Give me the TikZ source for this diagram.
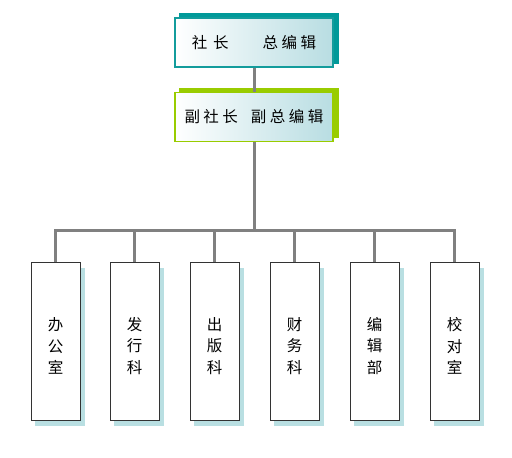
\documentclass[tikz,border=0pt]{standalone}
\usepackage{fontspec}
\newfontfamily\cjk{Noto Sans CJK SC}
\pgfdeclarelayer{shadow}
\pgfsetlayers{shadow,main}
\definecolor{teal edge}{HTML}{139C9C}
\definecolor{teal shadow}{HTML}{009999}
\definecolor{lime shadow}{HTML}{99CC00}
\definecolor{lime edge}{HTML}{99CC00}
\definecolor{head fill}{HTML}{B8DDE2}
\definecolor{dept shadow}{HTML}{B9DFE2}
\definecolor{link gray}{HTML}{808080}
\def\departments{{(55.5,341)/office/办\\公\\室}, {(134.5,341)/issue/发\\行\\科}, {(214.5,341)/press/出\\版\\科}, {(294.5,341)/finance/财\\务\\科}, {(374.5,341)/editing/编\\辑\\部}, {(454.5,341)/proof/校\\对\\室}}
\tikzstyle{head} = [shading angle=300, left color=white, right color=head fill, minimum width=158pt, minimum height=49pt, inner sep=0pt, font=\cjk\fontsize{15.5}{18}\selectfont]
\tikzstyle{chief edge} = [draw=teal edge, line width=1.2pt]
\tikzstyle{vice edge} = [draw=lime edge, line width=1.2pt]
\tikzstyle{dept} = [draw=black!80, fill=white, minimum width=49pt, minimum height=158pt, inner sep=0pt]
\tikzstyle{dept text} = [align=center, inner sep=0pt, font=\cjk\fontsize{15.5}{21.5}\selectfont]
\tikzstyle{link} = [draw, line width=3pt, link gray]

\begin{document}
\begin{tikzpicture}[x=1pt, y=-1pt]
  \useasboundingbox (0,0) rectangle (512,458);

  % The two heads
  \node[head, chief edge] (chief) at (254,42.5) {社\kern6pt 长\kern34pt 总\kern3.5pt 编\kern3.5pt 辑};
  \node[head, vice edge] (vice) at (254,117) {副\kern3.5pt 社\kern3.5pt 长\kern13pt 副\kern3.5pt 总\kern3.5pt 编\kern3.5pt 辑};

  \begin{pgfonlayer}{shadow}
    \fill[teal shadow] ([shift={(5,-4)}]chief.south west) rectangle ([shift={(5,-4)}]chief.north east);
    \fill[lime shadow] ([shift={(5,-4)}]vice.south west) rectangle ([shift={(5,-4)}]vice.north east);
  \end{pgfonlayer}

  \coordinate (bus) at (254,230);
  \path[link] (chief) -- (vice);
  \path[link] (vice) -- (bus);

  % The departments
  \foreach \pos/\name/\label in \departments {
    \node[dept] (\name) at \pos {};
    \node[dept text] (\name-text) at ([yshift=-5]\name.center) {\label};
    \begin{pgfonlayer}{shadow}
      \fill[dept shadow] ([shift={(4.5,6)}]\name.south west) rectangle ([shift={(4.5,6)}]\name.north east);
    \end{pgfonlayer}
    \path[link] (\name.north) |- (bus);
  }

\end{tikzpicture}
\end{document}
